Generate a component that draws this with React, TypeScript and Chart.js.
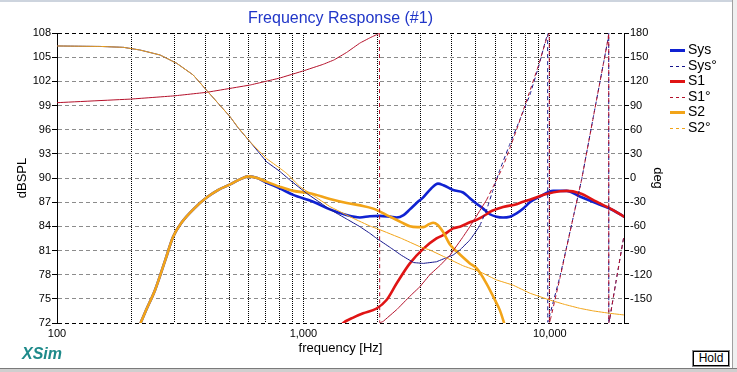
import React, { useEffect, useRef } from 'react';
import { Chart, registerables } from 'chart.js';

Chart.register(...registerables);

const FONT = '"Liberation Sans", Arial, Helvetica, sans-serif';

// ---------- Data ----------
const sysFreq = [215, 230, 250, 275, 296, 321, 360, 406, 450, 504, 550, 600, 650, 700, 804, 909, 1096, 1281, 1496, 1695, 1861, 2036, 2244, 2388, 2550, 2704, 2880, 3063, 3300, 3516, 3700, 3940, 4053, 4446, 4738, 5000, 5362, 5711, 6079, 6460, 6880, 7329, 7800, 8298, 9107, 10313, 11700, 13236, 15470, 18065, 20000];
const sysSpl = [71.5, 73.6, 76.1, 79.8, 82.7, 84.5, 86.2, 87.6, 88.5, 89.2, 89.8, 90.2, 90.0, 89.5, 88.7, 87.9, 87.05, 86.1, 85.4, 85.1, 85.25, 85.3, 85.2, 85.1, 85.4, 86.1, 86.9, 87.6, 88.7, 89.3, 89.1, 88.7, 88.5, 88.2, 87.5, 86.9, 86.2, 85.5, 85.2, 85.1, 85.2, 85.6, 86.2, 87.0, 87.7, 88.4, 88.4, 87.7, 86.85, 86.0, 85.2];

const sysPhaseFreq = [100, 150, 186, 217, 262, 306, 357, 406, 450, 504, 544, 607, 709, 804, 881, 1030, 1281, 1500, 1695, 1861, 1981, 2244, 2500, 2800, 3063, 3467, 3800, 4053, 4315, 4738, 5000, 5200, 5534, 5880, 6268, 6880, 7550, 8298, 9000, 9600, 9800, 9810, 10000, 11000, 11614, 12500, 13450, 15000, 16500, 17240, 17340, 17350, 17519, 18500, 19800, 20000];
const sysPhase = [163.9, 163.3, 162.2, 158.9, 152.7, 142.4, 127.9, 108.4, 93, 76, 62, 45, 20, 8, -2.5, -19, -39, -51, -60.4, -68.7, -74.9, -86, -96, -105, -106, -104, -99, -95.6, -89.4, -77, -67, -59, -40, -15, 10, 42, 72, 103, 138, 170, 179, -179, -170, -122, -90, -46, -2.5, 75, 142, 173, 179.5, -179.5, -174, -131, -79, -72];

const s1Freq = [1400, 1450, 1600, 1748, 1981, 2174, 2388, 2704, 3063, 3467, 3690, 4053, 4315, 4738, 5042, 5534, 5711, 6460, 7329, 7550, 8298, 9696, 11000, 11700, 13236, 15470, 18065, 20000];
const s1Spl = [71.5, 72.0, 72.7, 73.2, 73.8, 74.85, 76.9, 79.4, 81.2, 82.5, 82.9, 83.75, 83.95, 84.5, 84.8, 85.5, 85.8, 86.4, 86.75, 86.9, 87.3, 88.0, 88.35, 88.4, 88.1, 87.06, 86.0, 85.2];

const s1PhaseFreq = [100, 200, 300, 406, 607, 800, 1000, 1200, 1330, 1500, 1695, 1861, 2000, 2035, 2040, 2107, 2400, 2700, 2970, 3260, 3600, 3940, 4446, 4738, 5200, 5534, 6000, 6460, 6880, 7329, 7800, 8298, 9000, 9696, 9950, 9960, 10050, 11000, 11614, 12500, 13450, 15000, 16500, 17240, 17340, 17350, 17519, 18500, 19800, 20000];
const s1Phase = [93.5, 98, 102, 106.4, 115.4, 124, 133, 141, 146.5, 156, 167.5, 174, 178.5, 179.8, -179.8, -178, -163, -147, -135, -120, -108, -95.6, -73, -60.4, -40.5, -27.3, -5.8, 14, 36.8, 59.6, 84, 108, 140, 173, 179.5, -179.5, -176, -124, -91, -46, -2.5, 75, 142, 173, 179.5, -179.5, -174, -131, -79, -72];

const s2Freq = [215, 230, 250, 275, 296, 321, 360, 406, 450, 504, 550, 600, 650, 700, 804, 909, 1062, 1281, 1500, 1700, 1920, 2244, 2500, 2704, 2900, 3063, 3250, 3363, 3500, 3690, 3940, 4183, 4738, 5042, 5534, 6000, 6268, 6600];
const s2Spl = [71.5, 73.6, 76.1, 79.8, 82.7, 84.5, 86.2, 87.6, 88.5, 89.2, 89.8, 90.2, 90.0, 89.6, 88.9, 88.4, 88.1, 87.4, 86.9, 86.6, 86.2, 85.2, 84.5, 84.0, 83.9, 83.9, 84.3, 84.45, 84.2, 83.3, 81.7, 80.9, 79.4, 78.8, 76.9, 74.8, 73.6, 71.5];

const s2PhaseFreq = [100, 150, 186, 217, 262, 306, 357, 406, 450, 504, 544, 607, 709, 804, 855, 968, 1100, 1281, 1592, 1861, 2036, 2500, 2970, 3260, 3800, 4446, 5200, 6079, 7096, 8298, 10000, 11500, 13236, 15000, 17519, 20000];
const s2Phase = [163.9, 163.3, 162.2, 158.9, 152.7, 142.4, 127.9, 108.4, 93, 76, 62.5, 45, 24, 12, 5.8, -10.8, -22, -35.5, -50, -59.6, -64, -75, -85.3, -89.4, -99, -109, -116.3, -126.6, -133, -143, -151.5, -157, -161.8, -165, -168, -170];

// ---------- Axes / ticks ----------
const xGridTicks = [100, 200, 300, 400, 500, 600, 700, 800, 900, 1000, 2000, 3000, 4000, 5000, 6000, 7000, 8000, 9000, 10000, 20000];
const xTickLabels: Record<number, string> = { 100: '100', 1000: '1,000', 10000: '10,000' };
const splMin = 72, splMax = 108, splStep = 3;
const degMin = -180, degMax = 180, degStep = 30;

const seriesLabels = ['Sys', 'Sys°', 'S1', 'S1°', 'S2', 'S2°'];
const seriesColors = ['#1022d2', '#14148c', '#e01414', '#b4102a', '#f2a418', '#f2a418'];

const pts = (f: number[], v: number[]) => f.map((x, i) => ({ x, y: v[i] }));

const steepDash = (c: any) => {
  const dx = Math.abs(c.p1.x - c.p0.x);
  const dy = Math.abs(c.p1.y - c.p0.y);
  return dy > 1.8 * dx && dy > 5 ? [4, 3] : undefined;
};

const legendPlugin = {
  id: 'sideLegend',
  afterDraw(chart: any) {
    const ctx = chart.ctx;
    const x0 = chart.chartArea.right + 46;
    const y0 = 50;
    seriesLabels.forEach((label, i) => {
      const y = y0 + i * 15.5;
      const isPhase = label.endsWith('°');
      ctx.save();
      ctx.strokeStyle = seriesColors[i];
      ctx.lineWidth = isPhase ? 1 : 3;
      ctx.setLineDash(isPhase ? [3, 3] : []);
      ctx.beginPath();
      ctx.moveTo(x0, Math.round(y) + 0.5);
      ctx.lineTo(x0 + 15, Math.round(y) + 0.5);
      ctx.stroke();
      ctx.setLineDash([]);
      ctx.fillStyle = '#000';
      ctx.font = `14px ${FONT}`;
      ctx.textBaseline = 'middle';
      ctx.textAlign = 'left';
      ctx.fillText(label, x0 + 18, y + 0.5);
      ctx.restore();
    });
  },
};

export default function App() {
  const ref = useRef<HTMLCanvasElement>(null);

  useEffect(() => {
    Chart.defaults.font.family = FONT;
    Chart.defaults.color = '#000';
    const thick = 2.6;
    const phaseLine = { yAxisID: 'y1', borderWidth: 1, tension: 0.001, borderCapStyle: 'butt', segment: { borderDash: steepDash } };
    const chart = new Chart(ref.current as HTMLCanvasElement, {
      type: 'line',
      data: {
        datasets: [
          { ...phaseLine, label: 'S2°', data: pts(s2PhaseFreq, s2Phase), borderColor: seriesColors[5], order: 0 },
          { ...phaseLine, label: 'S1°', data: pts(s1PhaseFreq, s1Phase), borderColor: seriesColors[3], order: 1 },
          { ...phaseLine, label: 'Sys°', data: pts(sysPhaseFreq, sysPhase), borderColor: seriesColors[1], order: 2 },
          { label: 'S2', data: pts(s2Freq, s2Spl), yAxisID: 'y', borderColor: seriesColors[4], borderWidth: thick, cubicInterpolationMode: 'monotone', order: 3 },
          { label: 'S1', data: pts(s1Freq, s1Spl), yAxisID: 'y', borderColor: seriesColors[2], borderWidth: thick, cubicInterpolationMode: 'monotone', order: 4 },
          { label: 'Sys', data: pts(sysFreq, sysSpl), yAxisID: 'y', borderColor: seriesColors[0], borderWidth: thick, cubicInterpolationMode: 'monotone', order: 5 },
        ] as any,
      },
      options: {
        responsive: false,
        animation: false,
        events: [],
        parsing: false as any,
        elements: { point: { radius: 0 }, line: { fill: false, borderCapStyle: 'round', borderJoinStyle: 'round' } },
        datasets: { line: { clip: 0 as any } } as any,
        layout: { padding: { left: 0, right: 69, top: 0, bottom: 0 } },
        plugins: {
          legend: { display: false },
          tooltip: { enabled: false },
          title: {
            display: true,
            text: 'Frequency Response (#1)',
            color: '#2036c8',
            font: { size: 16, weight: 'normal', family: FONT },
            padding: { top: 9, bottom: 4.8 },
            fullSize: false,
          },
        },
        scales: {
          x: {
            type: 'logarithmic',
            min: 100,
            max: 20000,
            afterBuildTicks: (s: any) => { s.ticks = xGridTicks.map((v) => ({ value: v })); },
            afterFit: (s: any) => { s.height = 49; },
            ticks: {
              autoSkip: false,
              maxRotation: 0,
              minRotation: 0,
              padding: 4,
              font: { size: 11 },
              color: '#000',
              callback: (v: any) => xTickLabels[Number(v)] ?? '',
            },
            grid: { color: '#000', lineWidth: 1, drawTicks: false },
            border: { display: false, dash: [1, 1] },
            title: { display: true, text: 'frequency [Hz]', font: { size: 13 }, color: '#000', padding: { top: 0, bottom: 15.5 } },
          },
          y: {
            type: 'linear',
            position: 'left',
            min: splMin,
            max: splMax,
            afterFit: (s: any) => { s.width = 57; },
            ticks: { stepSize: splStep, font: { size: 11 }, color: '#000', padding: 1 },
            grid: {
              color: (c: any) => (c.tick && (c.tick.value === splMin || c.tick.value === splMax) ? '#000' : '#8c8c8c'),
              tickColor: '#000',
              tickLength: 5,
              lineWidth: 1,
            },
            border: { display: true, color: '#000', width: 1, dash: [4, 3] },
            title: { display: true, text: 'dBSPL', font: { size: 13 }, color: '#000', padding: { top: 15, bottom: 0 } },
          },
          y1: {
            type: 'linear',
            position: 'right',
            min: degMin,
            max: degMax,
            afterFit: (s: any) => { s.width = 44; },
            ticks: { stepSize: degStep, font: { size: 11 }, color: '#000', padding: 1, callback: (v: any) => (Number(v) === degMin ? '' : String(v)) },
            grid: { drawOnChartArea: false, tickColor: '#000', tickLength: 5 },
            border: { display: true, color: '#000', width: 1 },
            title: { display: true, text: 'deg', font: { size: 13 }, color: '#000', padding: { top: 3, bottom: 0 } },
          },
        },
      } as any,
      plugins: [legendPlugin],
    });
    return () => chart.destroy();
  }, []);

  return (
    <div style={{ position: 'absolute', left: 0, top: 0, width: 737, height: 372, background: '#fff', overflow: 'hidden' }}>
      <canvas ref={ref} width={737} height={372} style={{ position: 'absolute', left: 0, top: 0, width: 737, height: 372 }} />
      <div style={{ position: 'absolute', left: 0, top: 0, width: 737, height: 2, background: '#cdd4de' }} />
      <div style={{ position: 'absolute', left: 732, top: 0, width: 1, height: 368, background: '#a0a0a0' }} />
      <div style={{ position: 'absolute', left: 733, top: 0, width: 4, height: 368, background: '#f0f0f0' }} />
      <div style={{ position: 'absolute', left: 0, top: 368, width: 737, height: 1, background: '#7a7a7a' }} />
      <div style={{ position: 'absolute', left: 0, top: 369, width: 737, height: 3, background: '#cfcfcf' }} />
      <div style={{ position: 'absolute', left: 22, top: 346, font: `italic bold 16px ${FONT}`, lineHeight: '16px', color: '#1e8a8a' }}>XSim</div>
      <div
        style={{
          position: 'absolute', left: 692, top: 350, width: 38, height: 17, boxSizing: 'border-box',
          border: '1px solid #8a8a8a', boxShadow: 'inset 0 0 0 1px #000', background: '#fff',
          font: `12px ${FONT}`, lineHeight: '15px', textAlign: 'center', color: '#000',
        }}
      >
        Hold
      </div>
    </div>
  );
}
